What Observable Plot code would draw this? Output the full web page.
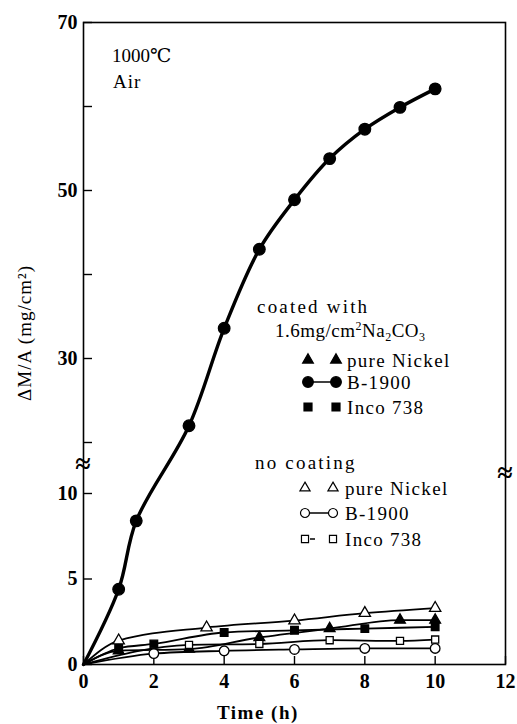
<!DOCTYPE html>
<html><head><meta charset="utf-8">
<script src="https://cdn.jsdelivr.net/npm/d3@7"></script>
<script src="https://cdn.jsdelivr.net/npm/@observablehq/plot@0.6"></script>
<style>
body{margin:0;background:#fff;}
#chart{position:relative;width:517px;height:724px;}
</style></head><body><div id="chart"></div>
<script>
// ---- data (time in h, mass gain in mg/cm2) ----
const timeB1900Coated = [0, 1, 1.5, 3, 4, 5, 6, 7, 8, 9, 10];
const gainB1900Coated = [0, 4.4, 8.4, 22.0, 33.6, 43.0, 48.9, 53.8, 57.3, 59.9, 62.1];
const timeNiCoated = [0, 1, 3, 5, 7, 9, 10];
const gainNiCoated = [0, 0.8, 0.9, 1.58, 2.1, 2.6, 2.6];
const timeIncoCoated = [0, 1, 2, 4, 6, 8, 10];
const gainIncoCoated = [0, 0.95, 1.2, 1.87, 2.0, 2.1, 2.2];
const timeNi = [0, 1, 3.5, 6, 8, 10];
const gainNi = [0, 1.4, 2.16, 2.57, 3.0, 3.3];
const timeB1900 = [0, 2, 4, 6, 8, 10];
const gainB1900 = [0, 0.64, 0.8, 0.88, 0.94, 0.94];
const timeInco = [0, 3, 5, 7, 9, 10];
const gainInco = [0, 1.15, 1.2, 1.42, 1.38, 1.46];

const xTicks = [0, 2, 4, 6, 8, 10, 12];
const yTickMarks = [0, 5, 10, 20, 30, 40, 50, 60, 70];
const yTickLabels = [0, 5, 10, 30, 50, 70];
const yBreakDomain = [0, 10, 20, 70];   // broken axis: 0-10 expanded, 20-70 compressed

const series = [
  {name: "B-1900 coated", t: timeB1900Coated, v: gainB1900Coated, symbol: "circle", fill: "black", r: 5.8, w: 3.4, curve: "catmull-rom"},
  {name: "Ni coated", t: timeNiCoated, v: gainNiCoated, symbol: "triangle", fill: "black", r: 4, w: 1.8, curve: "monotone-x"},
  {name: "Inco coated", t: timeIncoCoated, v: gainIncoCoated, symbol: "square", fill: "black", r: 4.3, w: 1.8, curve: "monotone-x"},
  {name: "Ni", t: timeNi, v: gainNi, symbol: "triangle", fill: "white", r: 4.2, w: 1.8, curve: "monotone-x"},
  {name: "B-1900", t: timeB1900, v: gainB1900, symbol: "circle", fill: "white", r: 4.8, w: 1.8, curve: "monotone-x"},
  {name: "Inco", t: timeInco, v: gainInco, symbol: "square", fill: "white", r: 4, w: 1.8, curve: "monotone-x"}
];
const rows = series.flatMap(s => s.t.map((t, i) => ({series: s.name, t, v: s.v[i]})));

const font = "'Liberation Serif','DejaVu Serif',serif";

const marks = [
  Plot.frame({stroke: "black", strokeWidth: 1.6}),
  Plot.axisY({ticks: yTickMarks, tickSize: -9, tickFormat: () => "", label: null, strokeWidth: 1.4}),
  Plot.axisY({ticks: yTickLabels, tickSize: 0, tickPadding: 6, fontSize: 20, fontWeight: "bold", label: null}),
  Plot.axisX({ticks: xTicks, tickSize: -8, tickFormat: () => "", label: null, strokeWidth: 1.4}),
  Plot.axisX({ticks: xTicks, tickSize: 0, tickPadding: 9, fontSize: 20, fontWeight: "bold", label: null})
];
for (const s of series) {
  marks.push(Plot.line(rows.filter(d => d.series === s.name), {x: "t", y: "v", curve: s.curve, stroke: "black", strokeWidth: s.w}));
}
for (const s of series) {
  marks.push(Plot.dot(rows.filter(d => d.series === s.name && d.t > 0), {x: "t", y: "v", symbol: s.symbol, r: s.r, fill: s.fill, stroke: "black", strokeWidth: 1.3}));
}

const svg = Plot.plot({
  width: 517, height: 724,
  marginLeft: 83, marginRight: 12, marginTop: 22, marginBottom: 60,
  style: {fontFamily: font, color: "black", background: "white"},
  x: {domain: [0, 12], range: [83, 505]},
  y: {type: "linear", domain: yBreakDomain, range: [664, 493, 442, 22]},
  marks
});
document.getElementById("chart").appendChild(svg);

// ---- annotations, axis titles and legend ----
const g = d3.select(svg).append("g").attr("font-family", font).attr("font-size", 19)
  .attr("fill", "black").attr("text-anchor", "start");
function txt(x, y, s, ls = 1) { return g.append("text").attr("x", x).attr("y", y).attr("letter-spacing", ls).text(s); }

txt(112, 62, "1000℃", 0);
txt(113, 88, "Air", 1);
txt(217, 719, "Time (h)", 1.5).attr("font-weight", "bold");
g.append("text").attr("transform", "translate(31,333) rotate(-90)").attr("text-anchor", "middle")
  .attr("letter-spacing", 1).text("ΔM/A (mg/cm²)");

// break marks
g.append("text").attr("x", 83).attr("y", 463).attr("text-anchor", "middle").attr("dominant-baseline", "central").attr("font-size", 28).attr("font-weight", "bold").text("≈");
g.append("text").attr("x", 505).attr("y", 472).attr("text-anchor", "middle").attr("dominant-baseline", "central").attr("font-size", 28).attr("font-weight", "bold").text("≈");

txt(257, 313, "coated with", 2.2);
const t2 = g.append("text").attr("x", 275).attr("y", 337).attr("letter-spacing", 0.5);
t2.append("tspan").text("1.6mg/cm");
t2.append("tspan").attr("font-size", 12).attr("dy", -7).text("2");
t2.append("tspan").attr("dy", 7).text("Na");
t2.append("tspan").attr("font-size", 12).attr("dy", 4).text("2");
t2.append("tspan").attr("dy", -4).text("CO");
t2.append("tspan").attr("font-size", 12).attr("dy", 4).text("3");
txt(255, 469, "no coating", 2.2);

const legendRows = [
  {y: 360, symbol: d3.symbolTriangle, fill: "black", line: null, label: "pure Nickel", x1: 308, x2: 336, tx: 347, size: 50},
  {y: 382, symbol: d3.symbolCircle, fill: "black", line: "full", label: "B-1900", x1: 308, x2: 336, tx: 347, size: 90},
  {y: 407, symbol: d3.symbolSquare, fill: "black", line: null, label: "Inco 738", x1: 308, x2: 336, tx: 347, size: 64},
  {y: 488, symbol: d3.symbolTriangle, fill: "white", line: null, label: "pure Nickel", x1: 305, x2: 333, tx: 345, size: 45},
  {y: 513, symbol: d3.symbolCircle, fill: "white", line: "full", label: "B-1900", x1: 305, x2: 333, tx: 345, size: 64},
  {y: 539, symbol: d3.symbolSquare, fill: "white", line: "dash", label: "Inco 738", x1: 305, x2: 333, tx: 345, size: 50}
];
for (const r of legendRows) {
  if (r.line === "full") g.append("line").attr("x1", r.x1).attr("x2", r.x2).attr("y1", r.y).attr("y2", r.y).attr("stroke", "black").attr("stroke-width", 1.5);
  if (r.line === "dash") g.append("line").attr("x1", r.x1 + 5).attr("x2", r.x1 + 10).attr("y1", r.y).attr("y2", r.y).attr("stroke", "black").attr("stroke-width", 1.5);
  for (const x of [r.x1, r.x2]) {
    g.append("path").attr("d", d3.symbol(r.symbol, r.size)()).attr("transform", `translate(${x},${r.y})`)
      .attr("fill", r.fill).attr("stroke", "black").attr("stroke-width", 1.2);
  }
  txt(r.tx, r.y + 7, r.label, 1.3);
}
</script>
</body></html>
